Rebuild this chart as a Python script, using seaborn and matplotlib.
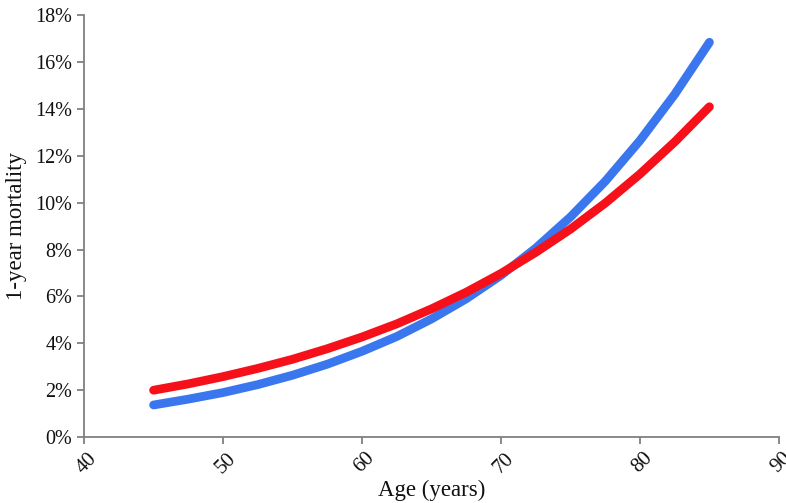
import pandas as pd
import matplotlib.pyplot as plt
import matplotlib.transforms as mtransforms
import seaborn as sns
from matplotlib.ticker import FuncFormatter

# Values (percent, 1-year mortality)
ages = [45, 47.5, 50, 52.5, 55, 57.5, 60, 62.5, 65, 67.5, 70, 72.5, 75, 77.5, 80, 82.5, 85]
blue_mortality = [1.37, 1.62, 1.90, 2.24, 2.64, 3.11, 3.66, 4.29, 5.04, 5.90, 6.90,
                  8.06, 9.39, 10.91, 12.65, 14.62, 16.84]
red_mortality = [2.00, 2.27, 2.58, 2.93, 3.32, 3.77, 4.27, 4.83, 5.47, 6.18, 6.98,
                 7.88, 8.87, 9.98, 11.22, 12.59, 14.09]
x_ticks = [40, 50, 60, 70, 80, 90]
y_ticks = [0, 2, 4, 6, 8, 10, 12, 14, 16, 18]

df = pd.concat([
    pd.DataFrame({'age': ages, 'mortality': blue_mortality, 'model': 'blue'}),
    pd.DataFrame({'age': ages, 'mortality': red_mortality, 'model': 'red'}),
])

sns.set_style('white')
plt.rcParams['font.family'] = ['Liberation Serif', 'DejaVu Serif']

fig = plt.figure(figsize=(7.86, 5.03), dpi=100)
ax = fig.add_axes([0.107, 0.131, 0.884, 0.839])

sns.lineplot(data=df, x='age', y='mortality', hue='model',
             palette={'blue': '#3a77ee', 'red': '#f5101a'},
             linewidth=6.3, legend=False, ax=ax,
             solid_capstyle='round', solid_joinstyle='round')

ax.set_xlim(40, 90)
ax.set_ylim(0, 18)
ax.set_xticks(x_ticks)
ax.set_yticks(y_ticks)
ax.yaxis.set_major_formatter(FuncFormatter(lambda v, _: f'{v:.0f}%'))

for side in ['top', 'right']:
    ax.spines[side].set_visible(False)
for side in ['left', 'bottom']:
    ax.spines[side].set_color('#808080')
    ax.spines[side].set_linewidth(1.3)

ax.tick_params(axis='both', direction='out', length=5, width=1.3, color='#808080',
               labelcolor='#111111', left=True, bottom=True)
ax.tick_params(axis='y', labelsize=14.5)
ax.tick_params(axis='x', labelsize=15)
shift = mtransforms.ScaledTranslation(3 / 100, 0, fig.dpi_scale_trans)
for lbl in ax.get_xticklabels():
    lbl.set_rotation(45)
    lbl.set_ha('right')
    lbl.set_rotation_mode('anchor')
    lbl.set_transform(lbl.get_transform() + shift)

ax.set_xlabel('Age (years)', fontsize=16.5, color='#111111', labelpad=2)
ax.set_ylabel('1-year mortality', fontsize=16.5, color='#111111', labelpad=6)

fig.savefig('out.png', dpi=100)
